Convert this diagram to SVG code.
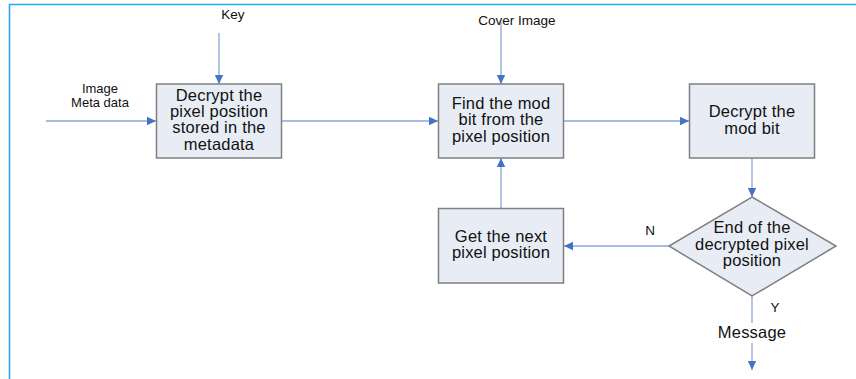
<svg xmlns="http://www.w3.org/2000/svg" width="856" height="379" viewBox="0 0 856 379">
<defs>
<style>
.box{fill:#e8edf5;stroke:#7f7f7f;stroke-width:1.5}
.ln{fill:none;stroke:#8ba6d8;stroke-width:1.3}
.t{font-family:"Liberation Sans",Arial,sans-serif;font-size:16.5px;fill:#111;text-anchor:middle;letter-spacing:0.2px}
.s{font-family:"Liberation Sans",Arial,sans-serif;font-size:13.5px;fill:#111;text-anchor:middle}
.m{font-size:13px}
</style>
<marker id="ah" markerWidth="10" markerHeight="10" refX="9" refY="5" orient="auto" markerUnits="userSpaceOnUse">
<path d="M0,0.8 L9,5 L0,9.2 Z" fill="#4472c4"/>
</marker>
</defs>
<rect width="856" height="379" fill="#fff"/>
<path d="M9.5,379 V4.5 H856" fill="none" stroke="#29aaf0" stroke-width="1.6"/>

<g id="connectors">
<line class="ln" x1="46" y1="121" x2="156" y2="121" marker-end="url(#ah)"/>
<line class="ln" x1="219" y1="33" x2="219" y2="84" marker-end="url(#ah)"/>
<line class="ln" x1="282" y1="121" x2="438" y2="121" marker-end="url(#ah)"/>
<line class="ln" x1="501" y1="22" x2="501" y2="84" marker-end="url(#ah)"/>
<line class="ln" x1="564" y1="121" x2="689" y2="121" marker-end="url(#ah)"/>
<line class="ln" x1="752" y1="158" x2="752" y2="197" marker-end="url(#ah)"/>
<line class="ln" x1="669" y1="246" x2="564" y2="246" marker-end="url(#ah)"/>
<line class="ln" x1="501" y1="208" x2="501" y2="158" marker-end="url(#ah)"/>
<line class="ln" x1="752" y1="296" x2="752" y2="323"/>
<line class="ln" x1="752" y1="343" x2="752" y2="370" marker-end="url(#ah)"/>
<text class="s" x="650" y="235">N</text>
<text class="s" x="775" y="312">Y</text>
</g>

<g id="input-key"><text class="s" x="233" y="19">Key</text></g>
<g id="input-meta"><text class="s m" x="100" y="92.5">Image</text><text class="s m" x="100" y="106.5">Meta data</text></g>
<g id="input-cover"><text class="s" x="517" y="24.5">Cover Image</text></g>

<g id="decrypt-position">
<rect class="box" x="156.5" y="84" width="125" height="74"/>
<text class="t" x="219" y="100.7">Decrypt the</text>
<text class="t" x="219" y="117">pixel position</text>
<text class="t" x="219" y="133.3">stored in the</text>
<text class="t" x="219" y="149.6">metadata</text>
</g>

<g id="find-mod-bit">
<rect class="box" x="438.5" y="84" width="125" height="74"/>
<text class="t" x="501" y="109">Find the mod</text>
<text class="t" x="501" y="125.3">bit from the</text>
<text class="t" x="501" y="141.6">pixel position</text>
</g>

<g id="decrypt-mod-bit">
<rect class="box" x="689.5" y="84" width="125" height="74"/>
<text class="t" x="752" y="117.3">Decrypt the</text>
<text class="t" x="752" y="133.6">mod bit</text>
</g>

<g id="next-position">
<rect class="box" x="438.5" y="208.5" width="125" height="74.5"/>
<text class="t" x="501" y="241.7">Get the next</text>
<text class="t" x="501" y="258">pixel position</text>
</g>

<g id="end-decision">
<polygon class="box" points="752,197 836,246 752,296 669,246"/>
<text class="t" x="752" y="233.3">End of the</text>
<text class="t" x="752" y="249.7">decrypted pixel</text>
<text class="t" x="752" y="266">position</text>
</g>

<g id="output-message"><text class="t" x="752" y="337.5">Message</text></g>
</svg>
